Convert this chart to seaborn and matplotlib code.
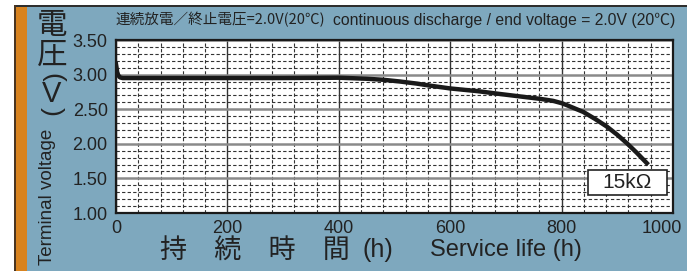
import numpy as np
import matplotlib
matplotlib.use("Agg")
import matplotlib.pyplot as plt
from matplotlib import font_manager
from matplotlib.patches import Rectangle
from matplotlib.transforms import ScaledTranslation
import seaborn as sns

# discharge curve (hours, volts)
hours = [0, 1, 2, 4, 7, 12, 50, 100, 200, 300, 400, 450, 480, 510, 540, 564,
         600, 650, 689, 730, 761, 785, 801, 815, 827, 839, 860, 881, 900,
         917, 935, 953]
volts = [3.15, 3.10, 3.04, 2.99, 2.96, 2.95, 2.95, 2.95, 2.95, 2.95, 2.955,
         2.94, 2.925, 2.90, 2.87, 2.84, 2.80, 2.76, 2.72, 2.68, 2.65, 2.62,
         2.585, 2.54, 2.50, 2.46, 2.36, 2.25, 2.13, 2.01, 1.87, 1.72]

x_ticks = [0, 200, 400, 600, 800, 1000]
y_ticks = [1.0, 1.5, 2.0, 2.5, 3.0, 3.5]
y_ticklabels = ["1.00", "1.50", "2.00", "2.50", "3.00", "3.50"]
load_label = "15k\u03a9"
title_jp = "連続放電／終止電圧=2.0V(20℃)"
title_en = "continuous discharge / end voltage = 2.0V (20℃)"

W, H = 687, 271
BG = "#7ea8be"
ORANGE = "#d8831f"
INK = "#222222"


def has_font(name):
    try:
        font_manager.findfont(name, fallback_to_default=False)
        return True
    except Exception:
        return False


NARROW = "Liberation Sans Narrow" if has_font("Liberation Sans Narrow") else "Liberation Sans"
jp = ["Noto Sans CJK JP", "DejaVu Sans"]

plt.rcParams["font.family"] = ["Liberation Sans", "Noto Sans CJK JP", "DejaVu Sans"]

fig = plt.figure(figsize=(W / 100, H / 100), dpi=100)
fig.patch.set_facecolor("white")


def fr(x0, y0, x1, y1, color):
    # rectangle in pixel coords (top-left origin)
    fig.add_artist(Rectangle((x0 / W, 1 - y1 / H), (x1 - x0) / W, (y1 - y0) / H,
                             transform=fig.transFigure, facecolor=color,
                             edgecolor="none", zorder=0))


fr(14, 5, W, H, BG)
fr(14, 5, W, 7, "#2e2e2e")
fr(14, 5, 16, H, "#4a3520")
fr(16, 7, 27, H, ORANGE)

ax = fig.add_axes([116 / W, 1 - 213 / H, (673 - 116) / W, (213 - 40) / H])
ax.set_facecolor("white")
ax.set_axisbelow(True)

sns.lineplot(x=hours, y=volts, ax=ax, color="#1a1a1a", linewidth=3.2, sort=False,
             zorder=5)

ax.set_xlim(0, 1000)
ax.set_ylim(1.0, 3.5)
ax.set_xticks(x_ticks)
ax.set_xticks(np.arange(0, 1001, 40), minor=True)
ax.set_yticks(y_ticks)
ax.set_yticklabels(y_ticklabels)
ax.set_yticks(np.arange(1.0, 3.51, 0.1), minor=True)
ax.tick_params(which="both", length=0)
ax.tick_params(axis="y", labelsize=13, pad=6, colors=INK)
ax.tick_params(axis="x", labelsize=13, pad=5, colors=INK)
# last x label sits a bit left of its gridline in the reference
last = ax.get_xticklabels()[-1]
last.set_transform(last.get_transform() + ScaledTranslation(-11 / 100, 0, fig.dpi_scale_trans))

ax.grid(which="minor", axis="both", color="#333333", linestyle=(0, (3, 2)), linewidth=0.8)
ax.grid(which="major", axis="x", color="#333333", linestyle="-", linewidth=1.0)
ax.grid(which="major", axis="y", color="#8a8a8a", linestyle="-", linewidth=1.8)
for s in ax.spines.values():
    s.set_color("#1a1a1a")
    s.set_linewidth(1.6)
ax.set_xlabel("")
ax.set_ylabel("")

# load label box
ax.add_patch(Rectangle((847, 1.26), 142, 0.36, facecolor="white", edgecolor=INK,
                       linewidth=1.2, zorder=6))
ax.text(918, 1.44, load_label, fontsize=15, ha="center", va="center", zorder=7,
        color=INK)

# title line: Japanese part at a fixed size, English part fitted to the rest
renderer = fig.canvas.get_renderer()
t_jp = fig.text(115 / W, 1 - 20 / H, title_jp, fontsize=10.5, ha="left", va="center",
                color=INK, family=jp)
jp_end = t_jp.get_window_extent(renderer).x1
en_start = jp_end + 8
t_en = fig.text(en_start / W, 1 - 20 / H, title_en, fontsize=12, ha="left",
                va="center", color=INK, family=[NARROW, "Noto Sans CJK JP", "DejaVu Sans"])
w_en = t_en.get_window_extent(renderer).width
t_en.set_fontsize(12 * (677 - en_start) / w_en)

# stacked y-axis label
fig.text(52 / W, 1 - 26 / H, "電", fontsize=22, ha="center", va="center", color=INK, family=jp)
fig.text(52 / W, 1 - 55 / H, "圧", fontsize=22, ha="center", va="center", color=INK, family=jp)
fig.text(52 / W, 1 - 77 / H, "(", fontsize=19, rotation=-90, ha="center", va="center", color=INK)
fig.text(52 / W, 1 - 94 / H, "V", fontsize=21, ha="center", va="center", color=INK)
fig.text(52 / W, 1 - 111 / H, ")", fontsize=19, rotation=-90, ha="center", va="center", color=INK)
fig.text(48 / W, 1 - 197 / H, "Terminal voltage", fontsize=13.5, rotation=90,
         ha="center", va="center", color=INK)

# x-axis label
fig.text(255 / W, 1 - 250 / H, "持　続　時　間", fontsize=19.5, ha="center", va="center",
         color=INK, family=jp)
fig.text(378 / W, 1 - 250 / H, "(h)", fontsize=18, ha="center", va="center", color=INK)
fig.text(506 / W, 1 - 250 / H, "Service life (h)", fontsize=17, ha="center",
         va="center", color=INK)

fig.savefig("out.png", dpi=100, facecolor=fig.get_facecolor())
